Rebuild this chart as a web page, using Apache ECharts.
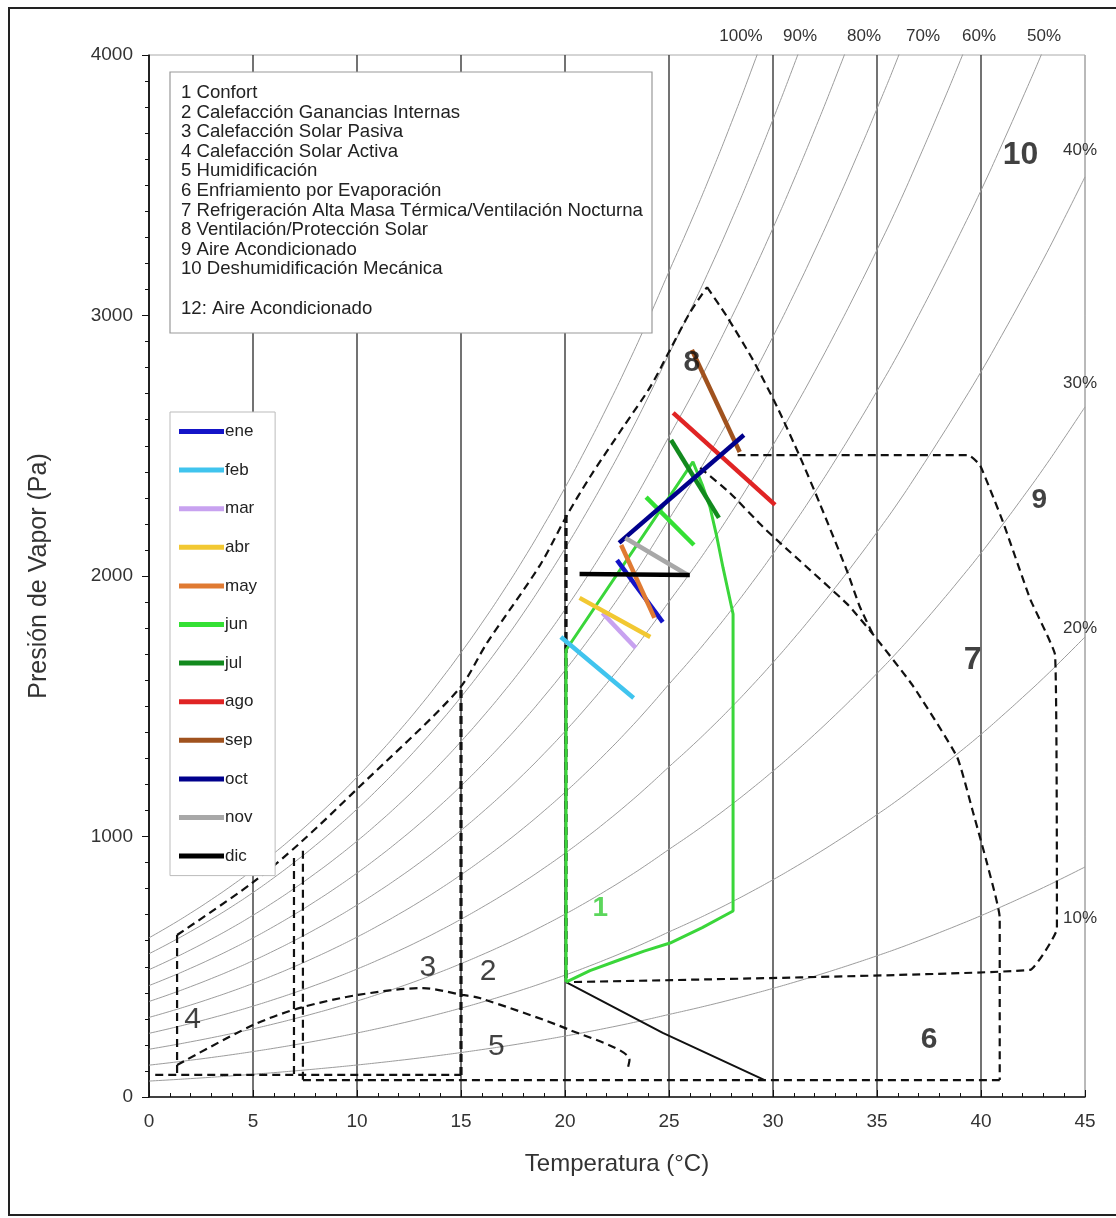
<!DOCTYPE html>
<html><head><meta charset="utf-8">
<script src="https://cdn.jsdelivr.net/npm/echarts@6/dist/echarts.min.js"></script>
<style>html,body{margin:0;padding:0;background:#fff}#c{width:1116px;height:1218px}</style>
</head><body><div id="c"></div>
<script>
// ---- data ----
const tempC = [0,1,2,3,4,5,6,7,8,9,10,11,12,13,14,15,16,17,18,19,20,21,22,23,24,25,26,27,28,29,30,31,32,33,34,35,36,37,38,39,40,41,42,43,44,45];
const satPa = [611,657,706,758,813,872,935,1002,1073,1148,1228,1313,1403,1498,1599,1706,1819,1938,2064,2198,2339,2488,2645,2810,2985,3169,3350,3540,3740,3950,4170,4400,4640,4890,5150,5420,5700,6000,6310,6630,6960,7310,7670,8040,8430,8830];
const rhLevels = [100,90,80,70,60,50,40,30,20,10];

const monthNames = ['ene','feb','mar','abr','may','jun','jul','ago','sep','oct','nov','dic'];
const monthFrom = [[22.5,2061],[19.8,1766],[21.8,1858],[20.7,1916],[22.7,2119],[23.9,2303],[25.1,2522],[25.2,2626],[26.1,2868],[22.6,2127],[22.9,2146],[20.7,2008]];
const monthTo   = [[24.7,1823],[23.3,1532],[23.4,1724],[24.1,1766],[24.3,1839],[26.2,2119],[27.4,2223],[30.1,2273],[28.4,2476],[28.6,2541],[25.9,2004],[26.0,2004]];

const upperLimit = [[1.35,622],[4.95,821],[7.26,975],[10.05,1186],[14.86,1562],[16.25,1743],[18.8,2042],[20.1,2234],[21.2,2380],[22.8,2572],[24.1,2726],[25.05,2868],[26.0,3010],[26.83,3109]];
const zone8Right = [[26.83,3109],[27.8,2994],[29.04,2829],[30.2,2649],[31.3,2457],[32.26,2276],[33.56,2019],[34.18,1881],[34.8,1777]];
const zone7Limit = [[26.5,2415],[27.93,2319],[29.52,2188],[30.34,2127],[33.56,1893],[34.8,1777],[36.73,1578],[38.85,1305],[39.6,1098],[40.3,894],[40.9,687],[40.9,65]];
const zone9Limit = [[28.3,2464],[39.4,2464],[39.95,2426],[41.06,2207],[42.36,1912],[43.56,1697],[43.65,645],[42.36,488],[20.05,441]];
const zone5Limit = [[1.35,123],[5.0,276],[7.26,342],[10.05,392],[13.17,418],[15.05,392],[15.9,380],[20.24,257],[23.1,142],[23.0,104]];
const zone4Left = [[1.35,622],[1.35,85]];
const zone3LeftA = [[6.97,917],[6.97,80]];
const zone3LeftB = [[7.4,945],[7.4,65]];
const zone2Left = [[15.0,1562],[15.0,65]];
const comfortLeft = [[20.05,2234],[20.05,441]];
const baseLineA = [[0.3,85],[15.0,85]];
const baseLineB = [[7.4,65],[40.9,65]];
const wetBulbLine = [[20.05,441],[24.7,246],[29.6,65]];
const comfortZone = [[20.05,441],[20.05,1716],[26.15,2438],[26.6,2350],[26.97,2265],[27.3,2150],[27.6,2031],[28.08,1854],[28.08,714],[26.6,650],[25.05,591],[23.8,560],[22.6,526],[21.2,485],[20.05,441]];

const zoneLabelText = ['1','2','3','4','5','6','7','8','9','10'];
const zoneLabelPos = [[21.7,725],[16.3,480],[13.4,495],[2.1,296],[16.7,192],[37.5,219],[39.6,1678],[26.1,2818],[42.8,2292],[41.9,3616]];

// ---- styles ----
const monthColors = ['#1414c8','#40c4ee','#c8a2f0','#f2c832','#e07a32','#34e034','#128a1e','#e02424','#a0521e','#00008c','#a8a8a8','#000000'];
const zoneLabelStyle = [
  {color:'#33cc33',fontWeight:'bold',fontSize:28},
  {color:'#111',fontWeight:'normal',fontSize:30},
  {color:'#111',fontWeight:'normal',fontSize:30},
  {color:'#111',fontWeight:'normal',fontSize:30},
  {color:'#111',fontWeight:'normal',fontSize:30},
  {color:'#111',fontWeight:'bold',fontSize:30},
  {color:'#111',fontWeight:'bold',fontSize:32},
  {color:'#111',fontWeight:'bold',fontSize:30},
  {color:'#111',fontWeight:'bold',fontSize:28},
  {color:'#111',fontWeight:'bold',fontSize:32}
];
const FONT = 'Liberation Sans, Arial, sans-serif';

const series = [];
// RH curves
rhLevels.forEach(rh => {
  series.push({
    type:'line', silent:true, showSymbol:false, smooth:true, z:1,
    data: tempC.map((t,i)=>[t, satPa[i]*rh/100]),
    lineStyle:{color:'#9c9c9c', width:1}
  });
});
function dashed(data, width, smooth){
  series.push({type:'line', silent:true, showSymbol:false, smooth:smooth||false, z:3,
    data, lineStyle:{color:'#111', width:width||2, type:[8,5]}});
}
dashed(upperLimit, 2.2, 0.3);
dashed(zone8Right, 2.2, 0.2);
dashed(zone7Limit, 2.2, 0.15);
dashed(zone9Limit, 2.2, 0.1);
dashed(zone5Limit, 2.2, 0.3);
dashed(zone4Left, 2.2);
dashed(zone3LeftA, 2.2);
dashed(zone3LeftB, 2.2);
dashed(zone2Left, 3.2);
dashed(comfortLeft, 3.2);
dashed(baseLineA, 2.2);
dashed(baseLineB, 2.2);
series.push({type:'line', silent:true, showSymbol:false, z:3, data:wetBulbLine, lineStyle:{color:'#111', width:2}});
series.push({type:'line', silent:true, showSymbol:false, z:4, data:comfortZone, lineStyle:{color:'#3ad63a', width:3}});
// months
monthNames.forEach((m,i)=>{
  series.push({type:'line', name:m, showSymbol:false, z:5, data:[monthFrom[i], monthTo[i]],
    color:monthColors[i], lineStyle:{color:monthColors[i], width:4.5}});
});
// zone numbers
series.push({type:'scatter', silent:true, symbolSize:0, z:6,
  data: zoneLabelPos.map((p,i)=>({value:p, label:Object.assign({show:true, position:'inside', formatter:zoneLabelText[i], fontFamily:FONT}, zoneLabelStyle[i])}))
});

const gridColors = ['#333','#444','#444','#444','#444','#444','#444','#444','#444','#b0b0b0'];

const rhTop = [['100%',741],['90%',800],['80%',864],['70%',923],['60%',979],['50%',1044]];
const rhRight = [['40%',150],['30%',383],['20%',628],['10%',918]];
const graphics = [];
graphics.push({type:'rect', shape:{x:9,y:8,width:1125,height:1207}, style:{fill:'none', stroke:'#222', lineWidth:2}, z:100});
rhTop.forEach(([t,x])=>graphics.push({type:'text', x, y:36, style:{text:t, fill:'#333', font:'17px '+FONT, textAlign:'center', textVerticalAlign:'middle'}, z:100}));
rhRight.forEach(([t,y])=>graphics.push({type:'text', x:1080, y, style:{text:t, fill:'#333', font:'17px '+FONT, textAlign:'center', textVerticalAlign:'middle'}, z:100}));
graphics.push({type:'rect', shape:{x:170,y:72,width:482,height:261}, style:{fill:'#fff', stroke:'#999', lineWidth:1.2}, z:50});
graphics.push({type:'text', x:181, y:83, z:51, style:{
  text:'1 Confort\n2 Calefacción Ganancias Internas\n3 Calefacción Solar Pasiva\n4 Calefacción Solar Activa\n5 Humidificación\n6 Enfriamiento por Evaporación\n7 Refrigeración Alta Masa Térmica/Ventilación Nocturna\n8 Ventilación/Protección Solar\n9 Aire Acondicionado\n10 Deshumidificación Mecánica\n\n12: Aire Acondicionado',
  font:'18.6px '+FONT, fill:'#222', lineHeight:19.6}});

const chart = echarts.init(document.getElementById('c'), null, {renderer:'canvas'});
chart.setOption({
  animation:false,
  backgroundColor:'#fff',
  grid:{left:149, right:31, top:55, bottom:121, show:true, borderColor:'#aaa', borderWidth:1},
  legend:{
    data: monthNames, orient:'vertical', left:170, top:412, icon:'rect', itemWidth:45, itemHeight:5,
    itemGap:21.6, padding:[11,18,11,9], backgroundColor:'#fff', borderColor:'#bbb', borderWidth:1,
    textStyle:{fontSize:17, color:'#222', fontFamily:FONT, padding:[0,0,0,-4]}, selectedMode:false, z:20
  },
  xAxis:{type:'value', min:0, max:45, interval:5,
    name:'Temperatura (°C)', nameLocation:'middle', nameGap:55,
    nameTextStyle:{fontSize:24, color:'#333', fontFamily:FONT},
    axisLine:{lineStyle:{color:'#111', width:1.5}},
    axisTick:{inside:true, length:7, lineStyle:{color:'#111'}},
    minorTick:{show:true, splitNumber:5, length:4, lineStyle:{color:'#111'}},
    axisLabel:{fontSize:19, color:'#333', margin:15, fontFamily:FONT, formatter:v=>String(v)},
    splitLine:{show:true, lineStyle:{color:gridColors, width:1.5}}
  },
  yAxis:{type:'value', min:0, max:4000, interval:1000,
    name:'Presión de Vapor (Pa)', nameLocation:'middle', nameGap:97, nameRotate:90,
    nameTextStyle:{fontSize:25, color:'#333', fontFamily:FONT},
    axisLine:{show:true, lineStyle:{color:'#111', width:1.5}},
    axisTick:{show:true, inside:false, length:7, lineStyle:{color:'#111'}},
    minorTick:{show:true, splitNumber:10, length:4, lineStyle:{color:'#111'}},
    axisLabel:{fontSize:19, color:'#333', margin:16, fontFamily:FONT, formatter:v=>String(v)},
    splitLine:{show:false}
  },
  series,
  graphic: graphics
});
</script></body></html>
